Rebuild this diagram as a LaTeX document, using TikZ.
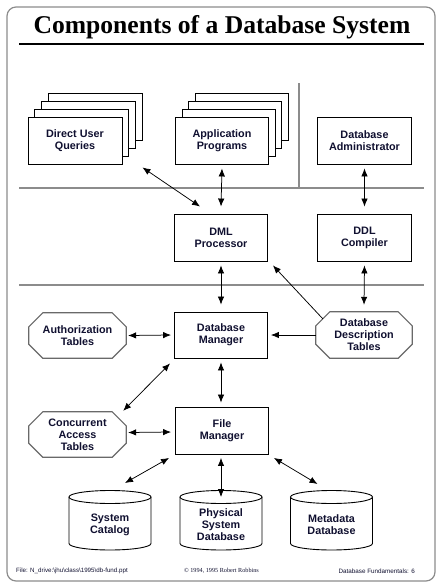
\documentclass[tikz,border=0pt]{standalone}
\usepackage{fontspec}
\setmainfont{Liberation Sans}
\newfontfamily\titleserif{Liberation Serif}
\usetikzlibrary{arrows.meta,calc}
\definecolor{ink}{RGB}{16,16,48}
\definecolor{rulegray}{RGB}{140,140,140}
\definecolor{octline}{RGB}{105,105,105}
\newcommand\labfont{\fontsize{10.8}{12}\selectfont\bfseries}
\tikzset{
  boxline/.style={draw=black, line width=0.9pt},
  box/.style={boxline, fill=white, minimum width=93pt, minimum height=47pt, inner sep=0pt, align=center, font=\labfont, text=ink},
  octo/.style={minimum width=97pt, minimum height=45pt, inner sep=0pt, align=center, font=\labfont, text=ink},
  octoline/.style={draw=octline, line width=1.2pt, fill=white},
  cyltext/.style={inner sep=0pt, align=center, font=\labfont, text=ink},
  grayrule/.style={draw=rulegray, line width=1.5pt},
  both/.style={line width=0.75pt, {Latex[length=8pt,width=6.5pt]}-{Latex[length=8pt,width=6.5pt]}},
  single/.style={line width=0.75pt, -{Latex[length=8pt,width=6.5pt]}},
  foot/.style={inner sep=0pt, text=ink}
}
\newcommand\octagonaround[1]{%
  \path[octoline] ($(#1.north west)+(14,0)$) -- ($(#1.north east)+(-14,0)$) -- ($(#1.north east)+(0,14)$) -- ($(#1.south east)+(0,-14)$) -- ($(#1.south east)+(-14,0)$) -- ($(#1.south west)+(14,0)$) -- ($(#1.south west)+(0,-14)$) -- ($(#1.north west)+(0,14)$) -- cycle;}
\newcommand\cylinderaround[1]{%
  \path[boxline, fill=white] ($(#1)+(-41,-28)$) -- ($(#1)+(-41,18.5)$) arc[start angle=180, end angle=360, x radius=41pt, y radius=6.5pt] -- ($(#1)+(41,-28)$);
  \path[boxline, fill=white] ($(#1)+(0,-28)$) ellipse[x radius=41pt, y radius=6.5pt];}
\begin{document}
\begin{tikzpicture}[x=1pt,y=-1pt]
\useasboundingbox (0,0) rectangle (443,587);
\draw[draw=rulegray, line width=1.2pt, rounded corners=9pt] (7,7) rectangle (435,581);
% title
\node[font=\titleserif\fontsize{25.6}{28}\selectfont\bfseries, inner sep=0pt] (title) at (222,27) {Components of a Database System};
\draw[line width=2pt] (19,44) -- (424,44);
% separators
\draw[grayrule] (19,188) -- (424,188);
\draw[grayrule] (19,285) -- (424,285);
\draw[grayrule] (299,83) -- (299,188);
% stacked copies
\foreach \k in {3,2,1} {
  \draw[boxline, fill=white] (75+\k*6.7-47, 140.5-\k*7.7-23.5) rectangle ++(94,47);
  \draw[boxline, fill=white] (222+\k*6.7-46.5, 140.5-\k*7.7-23.5) rectangle ++(93,47);
}
% boxes
\node[box, minimum width=94pt] (duq) at (75,140.5) {Direct User\\Queries};
\node[box] (ap) at (222,140.5) {Application\\Programs};
\node[box, minimum width=94pt] (dba) at (364.5,140.5) {Database\\Administrator};
\node[box] (dml) at (221,237.5) {DML\\Processor};
\node[box, minimum width=94pt] (ddl) at (364.5,237.5) {DDL\\Compiler};
\node[box, minimum height=46pt] (dbm) at (221,335) {Database\\Manager};
\node[box] (fm) at (222,430.5) {File\\Manager};
% octagons
\node[octo] (auth) at (77.5,335.5) {};
\octagonaround{auth}
\node[octo] at (auth) {Authorization\\Tables};
\node[octo] (cat) at (77.5,434.5) {};
\octagonaround{cat}
\node[octo] at (cat) {Concurrent\\Access\\Tables};
\node[octo, minimum width=96pt, minimum height=46pt] (ddt) at (364,335) {};
\octagonaround{ddt}
\node[octo] at (ddt) {Database\\Description\\Tables};
% cylinders
\coordinate (scc) at (110,525);
\coordinate (psc) at (221,525);
\coordinate (mdc) at (331.5,525);
\cylinderaround{scc}
\cylinderaround{psc}
\cylinderaround{mdc}
\node[cyltext] (sc) at (scc) {System\\Catalog};
\node[cyltext] (psd) at (psc) {Physical\\System\\Database};
\node[cyltext] (md) at (mdc) {Metadata\\Database};
\coordinate (sctop) at ($(scc)+(15,-42)$);
\coordinate (pstop) at ($(psc)+(0,-28)$);
\coordinate (mdtop) at ($(mdc)+(-14,-41)$);
% connectors
\draw[both] ($(duq.south east)+(20,3)$) -- ($(dml.north west)+(26,-7)$);
\draw[both] ($(ap.south)+(0,4)$) -- ($(dml.north)+(0,-7)$);
\draw[both] ($(dba.south)+(0,4)$) -- ($(ddl.north)+(0,-7)$);
\draw[both] ($(dml.south)+(0,4)$) -- ($(dbm.north)+(0,-7)$);
\draw[both] ($(ddl.south)+(0,4)$) -- ($(ddt.north)+(0,-7)$);
\draw[single] ($(ddt.north west)+(7,7)$) -- ($(dml.south east)+(5,4)$);
\draw[single] (ddt.west) -- ($(dbm.east)+(3,0)$);
\draw[both] ($(auth.east)+(2,0)$) -- ($(dbm.west)+(-3,0)$);
\draw[both] ($(cat.north east)+(-3,-1)$) -- ($(dbm.south west)+(-4,5)$);
\draw[both] ($(cat.east)+(2,-2)$) -- ($(fm.west)+(-4,1.5)$);
\draw[both] ($(dbm.south)+(0,4)$) -- ($(fm.north)+(-1,-4)$);
\draw[both] ($(fm.south west)+(-6,3.5)$) -- (sctop);
\draw[both] ($(fm.south)+(-1,3.5)$) -- (pstop);
\draw[both] ($(fm.south east)+(5,3.5)$) -- (mdtop);
% footer
\node[foot, anchor=west, font=\fontsize{6.2}{7}\selectfont] (f1) at (16,571) {File: N\_drive:\textbackslash jhu\textbackslash class\textbackslash 1995\textbackslash db-fund.ppt};
\node[foot, font=\titleserif\fontsize{6.2}{7}\selectfont] (f2) at (221.5,571) {\textcopyright{} 1994, 1995 Robert Robbins};
\node[foot, anchor=east, font=\fontsize{6.3}{7}\selectfont] (f3) at (415,571) {Database Fundamentals: 6};
\end{tikzpicture}
\end{document}
